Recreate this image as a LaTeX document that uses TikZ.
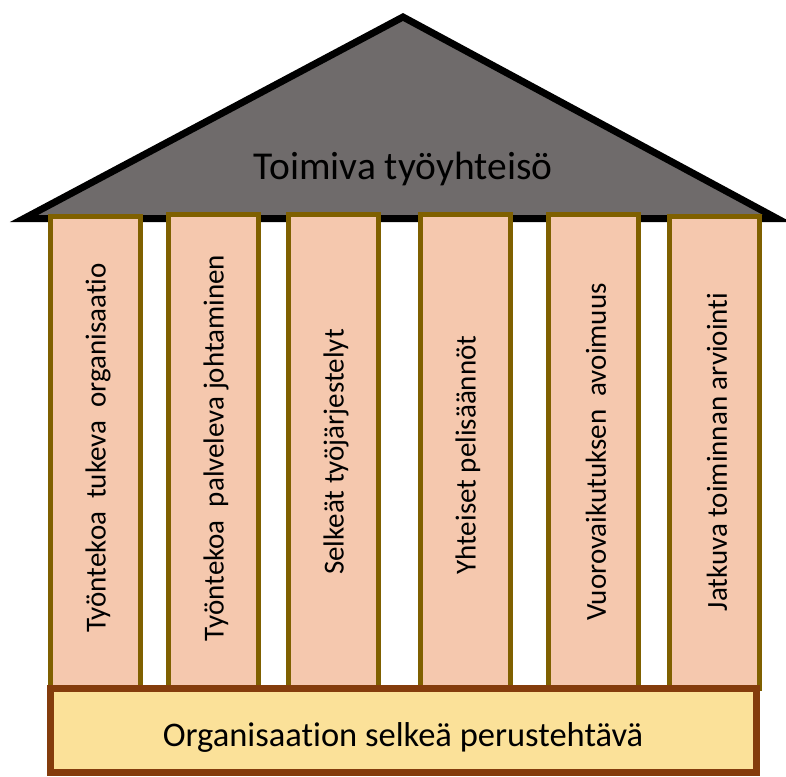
\documentclass[tikz,border=0pt]{standalone}
\usepackage{fontspec}
\setmainfont{Carlito}[Ligatures=NoCommon]
\definecolor{roofgray}{RGB}{111,107,107}
\definecolor{pillarfill}{RGB}{245,200,174}
\definecolor{pillaredge}{RGB}{127,96,0}
\definecolor{basefill}{RGB}{251,225,153}
\definecolor{baseedge}{RGB}{132,60,12}
\begin{document}
\begin{tikzpicture}[x=1pt,y=-1pt,
  roof/.style={fill=roofgray,draw=black,line width=7pt,line join=miter},
  pillarbox/.style={draw=pillaredge,fill=pillarfill,line width=5pt,
    rectangle,inner sep=0pt,minimum width=90pt},
  pillartext/.style={rotate=90,font=\fontsize{29}{32}\selectfont,inner sep=0pt},
  basebox/.style={draw=baseedge,fill=basefill,line width=7pt,rectangle,
    inner sep=0pt,minimum width=706pt,minimum height=84pt},
  basetext/.style={font=\fontsize{34.5}{38}\selectfont,inner sep=0pt},
  rooftext/.style={font=\fontsize{39.5}{42}\selectfont,inner sep=0pt}]
\useasboundingbox (0,0) rectangle (786,776);
% roof
\coordinate (eaveL) at (24,218.5);
\coordinate (apex) at (403,17);
\coordinate (eaveR) at (777,218.5);
\draw[roof] (eaveL) -- (apex) -- (eaveR) -- cycle;
\node[rooftext] (title) at (403,169) {Toimiva työyhteisö};
% pillars
\node[pillarbox,minimum height=472pt] (p1) at (95.5,452.5) {};
\node[pillarbox,minimum height=474pt] (p2) at (213.5,451.5) {};
\node[pillarbox,minimum height=474pt] (p3) at (333.5,451.5) {};
\node[pillarbox,minimum height=474pt] (p4) at (465.5,451.5) {};
\node[pillarbox,minimum height=474pt] (p5) at (593.5,451.5) {};
\node[pillarbox,minimum height=472pt] (p6) at (714.5,452.5) {};
\node[pillartext] (t1) at (98,448) {Työntekoa\ \ tukeva\ \ organisaatio};
\node[pillartext] (t2) at (216,448) {Työntekoa\ \ palveleva johtaminen};
\node[pillartext] (t3) at (336,452) {Selkeät työjärjestelyt};
\node[pillartext] (t4) at (468,455) {Yhteiset pelisäännöt};
\node[pillartext] (t5) at (596,452) {Vuorovaikutuksen\ \ avoimuus};
\node[pillartext] (t6) at (717,452) {Jatkuva toiminnan arviointi};
% foundation
\node[basebox] (base) at (403.5,730.5) {};
\node[basetext] (basetitle) at (403,737) {Organisaation selkeä perustehtävä};
\end{tikzpicture}
\end{document}
